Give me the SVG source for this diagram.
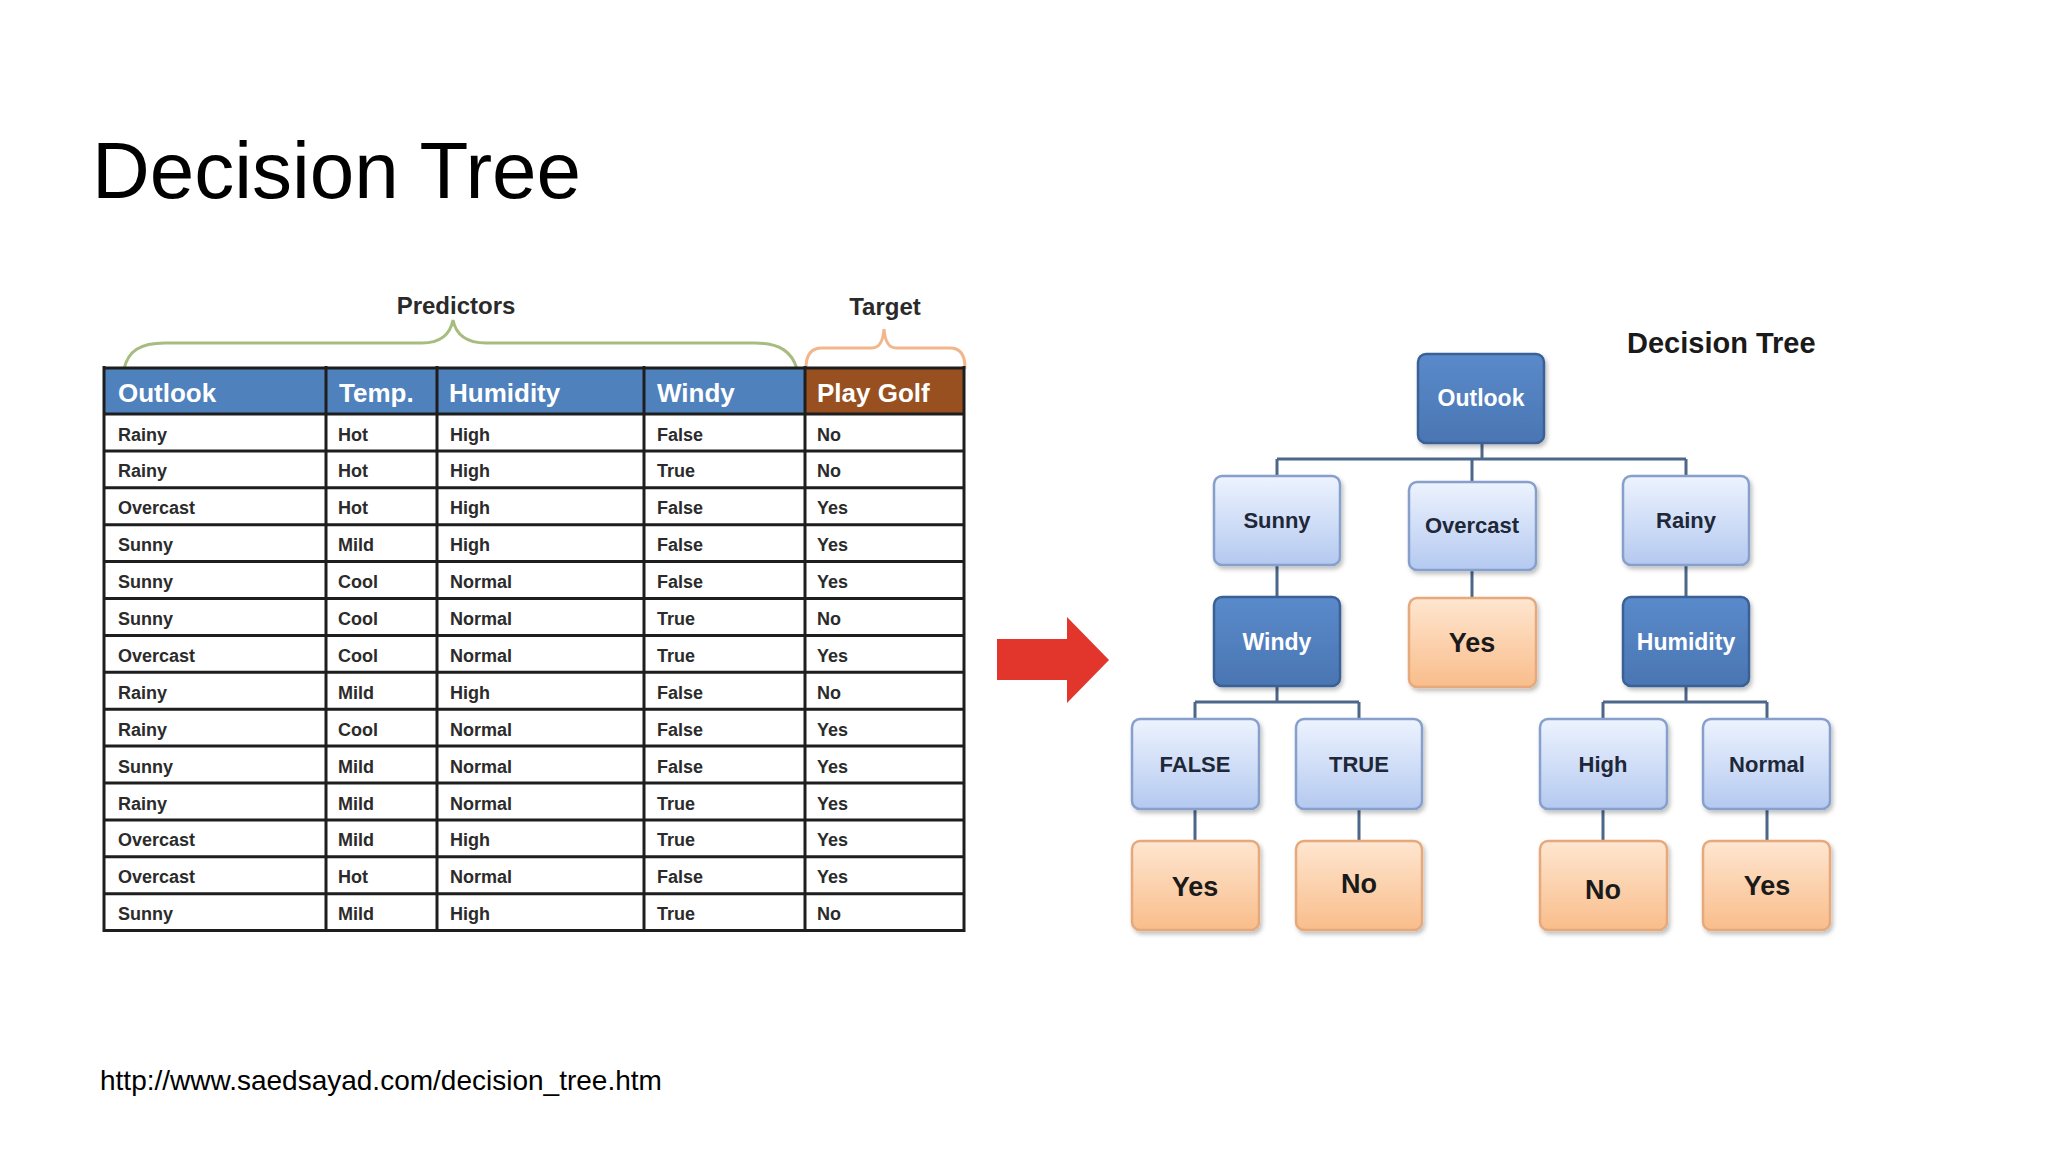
<svg xmlns="http://www.w3.org/2000/svg" width="2048" height="1152" viewBox="0 0 2048 1152">
<defs>
<linearGradient id="gDark" x1="0" y1="0" x2="0" y2="1"><stop offset="0" stop-color="#5a8acb"/><stop offset="1" stop-color="#4a76b2"/></linearGradient>
<linearGradient id="gLight" x1="0" y1="0" x2="0" y2="1"><stop offset="0" stop-color="#edf3fe"/><stop offset="1" stop-color="#b4c9f0"/></linearGradient>
<linearGradient id="gOrange" x1="0" y1="0" x2="0" y2="1"><stop offset="0" stop-color="#fee6d0"/><stop offset="1" stop-color="#f9bd8b"/></linearGradient>
<filter id="sh" x="-10%" y="-10%" width="130%" height="130%"><feDropShadow dx="2" dy="3" stdDeviation="2" flood-color="#000" flood-opacity="0.25"/></filter>
</defs>
<style>
.title{font-family:"Liberation Sans",Arial,sans-serif;font-size:80px;fill:#000}
.url{font-family:"Liberation Sans",Arial,sans-serif;font-size:28px;fill:#000}
.lbl{font-family:"Liberation Sans",Arial,sans-serif;font-weight:bold;font-size:24px;fill:#2a2a2a;text-anchor:middle}
.sub{font-family:"Liberation Sans",Arial,sans-serif;font-weight:bold;font-size:29px;fill:#1a1a1a}
.hd{font-family:"Liberation Sans",Arial,sans-serif;font-weight:bold;font-size:26px;fill:#fff}
.cell{font-family:"Liberation Sans",Arial,sans-serif;font-weight:bold;font-size:18px;fill:#2b2b2b}
.grid{stroke:#1e1e1e;stroke-width:3;fill:none}
.brace{fill:none;stroke-width:3;stroke-linecap:round}
.dark rect{fill:url(#gDark);stroke:#3b6196;stroke-width:2.5;filter:url(#sh)}
.light rect{fill:url(#gLight);stroke:#869fcb;stroke-width:2.5;filter:url(#sh)}
.leaf rect{fill:url(#gOrange);stroke:#e5a97c;stroke-width:2.5;filter:url(#sh)}
.dark text{font-family:"Liberation Sans",Arial,sans-serif;font-weight:bold;font-size:23px;fill:#fff;text-anchor:middle}
.light text{font-family:"Liberation Sans",Arial,sans-serif;font-weight:bold;font-size:22px;fill:#1e2838;text-anchor:middle}
.leaf text{font-family:"Liberation Sans",Arial,sans-serif;font-weight:bold;font-size:27px;fill:#1a1a1a;text-anchor:middle}
.conn{stroke:#4d6789;stroke-width:3;fill:none}
</style>
<rect width="2048" height="1152" fill="#fff"/>
<text class="title" x="92" y="198">Decision Tree</text>

<g id="table">
<text class="lbl" x="456" y="314">Predictors</text>
<text class="lbl" x="885" y="315">Target</text>
<path class="brace" stroke="#a7bd80" d="M124,369 C128,351 140,343 165,343 L422,343 C440,343 450,335 453,320 C456,335 466,343 486,343 L755,343 C780,343 792,352 797,369"/>
<path class="brace" stroke="#f1b68c" d="M806,368 C806,354 812,348 822,348 L872,348 C879,348 883,342 884,329 C885,342 889,348 896,348 L950,348 C960,348 965,354 965,368"/>
<rect x="104" y="368" width="701" height="46" fill="#4f81bd"/>
<rect x="805" y="368" width="159" height="46" fill="#985021"/>
<text class="hd" x="118" y="402">Outlook</text>
<text class="hd" x="339" y="402">Temp.</text>
<text class="hd" x="449" y="402">Humidity</text>
<text class="hd" x="657" y="402">Windy</text>
<text class="hd" x="817" y="402">Play Golf</text>
<path class="grid" d="M104,368H964 M104,414H964 M104,450.9H964 M104,487.8H964 M104,524.7H964 M104,561.6H964 M104,598.5H964 M104,635.4H964 M104,672.3H964 M104,709.2H964 M104,746.1H964 M104,783H964 M104,819.9H964 M104,856.8H964 M104,893.7H964 M104,930.6H964 M104,366V932 M326,366V932 M437,366V932 M644,366V932 M805,366V932 M964,366V932"/>
<g class="cell">
<text x="118" y="440.5">Rainy</text><text x="338" y="440.5">Hot</text><text x="450" y="440.5">High</text><text x="657" y="440.5">False</text><text x="817" y="440.5">No</text>
<text x="118" y="477.4">Rainy</text><text x="338" y="477.4">Hot</text><text x="450" y="477.4">High</text><text x="657" y="477.4">True</text><text x="817" y="477.4">No</text>
<text x="118" y="514.3">Overcast</text><text x="338" y="514.3">Hot</text><text x="450" y="514.3">High</text><text x="657" y="514.3">False</text><text x="817" y="514.3">Yes</text>
<text x="118" y="551.2">Sunny</text><text x="338" y="551.2">Mild</text><text x="450" y="551.2">High</text><text x="657" y="551.2">False</text><text x="817" y="551.2">Yes</text>
<text x="118" y="588.1">Sunny</text><text x="338" y="588.1">Cool</text><text x="450" y="588.1">Normal</text><text x="657" y="588.1">False</text><text x="817" y="588.1">Yes</text>
<text x="118" y="625">Sunny</text><text x="338" y="625">Cool</text><text x="450" y="625">Normal</text><text x="657" y="625">True</text><text x="817" y="625">No</text>
<text x="118" y="661.9">Overcast</text><text x="338" y="661.9">Cool</text><text x="450" y="661.9">Normal</text><text x="657" y="661.9">True</text><text x="817" y="661.9">Yes</text>
<text x="118" y="698.8">Rainy</text><text x="338" y="698.8">Mild</text><text x="450" y="698.8">High</text><text x="657" y="698.8">False</text><text x="817" y="698.8">No</text>
<text x="118" y="735.7">Rainy</text><text x="338" y="735.7">Cool</text><text x="450" y="735.7">Normal</text><text x="657" y="735.7">False</text><text x="817" y="735.7">Yes</text>
<text x="118" y="772.6">Sunny</text><text x="338" y="772.6">Mild</text><text x="450" y="772.6">Normal</text><text x="657" y="772.6">False</text><text x="817" y="772.6">Yes</text>
<text x="118" y="809.5">Rainy</text><text x="338" y="809.5">Mild</text><text x="450" y="809.5">Normal</text><text x="657" y="809.5">True</text><text x="817" y="809.5">Yes</text>
<text x="118" y="846.4">Overcast</text><text x="338" y="846.4">Mild</text><text x="450" y="846.4">High</text><text x="657" y="846.4">True</text><text x="817" y="846.4">Yes</text>
<text x="118" y="883.3">Overcast</text><text x="338" y="883.3">Hot</text><text x="450" y="883.3">Normal</text><text x="657" y="883.3">False</text><text x="817" y="883.3">Yes</text>
<text x="118" y="920.2">Sunny</text><text x="338" y="920.2">Mild</text><text x="450" y="920.2">High</text><text x="657" y="920.2">True</text><text x="817" y="920.2">No</text>
</g>
</g>

<g id="arrow"><polygon points="997,639 1067,639 1067,617 1109,660 1067,703 1067,680 997,680" fill="#e2352c"/></g>

<text class="sub" x="1627" y="353">Decision Tree</text>

<g id="connectors">
<path class="conn" d="M1482,443V459 M1277,459H1686 M1277,459V476 M1472,459V482 M1686,459V476"/>
<path class="conn" d="M1277,565V597 M1472,570V598 M1686,565V597"/>
<path class="conn" d="M1277,686V702 M1195,702H1359 M1195,702V719 M1359,702V719"/>
<path class="conn" d="M1686,686V702 M1603,702H1767 M1603,702V719 M1767,702V719"/>
<path class="conn" d="M1195,809V841 M1359,809V841 M1603,809V841 M1767,809V841"/>
</g>

<g id="n-outlook" class="dark"><rect x="1418" y="354" width="126" height="89" rx="8"/><text x="1481" y="406">Outlook</text></g>
<g id="n-sunny" class="light"><rect x="1214" y="476" width="126" height="89" rx="8"/><text x="1277" y="528">Sunny</text></g>
<g id="n-overcast" class="light"><rect x="1409" y="482" width="127" height="88" rx="8"/><text x="1472" y="533">Overcast</text></g>
<g id="n-rainy" class="light"><rect x="1623" y="476" width="126" height="89" rx="8"/><text x="1686" y="528">Rainy</text></g>
<g id="n-windy" class="dark"><rect x="1214" y="597" width="126" height="89" rx="8"/><text x="1277" y="650">Windy</text></g>
<g id="n-yes1" class="leaf"><rect x="1409" y="598" width="127" height="89" rx="8"/><text x="1472" y="652">Yes</text></g>
<g id="n-humidity" class="dark"><rect x="1623" y="597" width="126" height="89" rx="8"/><text x="1686" y="650">Humidity</text></g>
<g id="n-false" class="light"><rect x="1132" y="719" width="127" height="90" rx="8"/><text x="1195" y="772">FALSE</text></g>
<g id="n-true" class="light"><rect x="1296" y="719" width="126" height="90" rx="8"/><text x="1359" y="772">TRUE</text></g>
<g id="n-high" class="light"><rect x="1540" y="719" width="127" height="90" rx="8"/><text x="1603" y="772">High</text></g>
<g id="n-normal" class="light"><rect x="1703" y="719" width="127" height="90" rx="8"/><text x="1767" y="772">Normal</text></g>
<g id="n-yes2" class="leaf"><rect x="1132" y="841" width="127" height="89" rx="8"/><text x="1195" y="896">Yes</text></g>
<g id="n-no1" class="leaf"><rect x="1296" y="841" width="126" height="89" rx="8"/><text x="1359" y="893">No</text></g>
<g id="n-no2" class="leaf"><rect x="1540" y="841" width="127" height="89" rx="8"/><text x="1603" y="899">No</text></g>
<g id="n-yes3" class="leaf"><rect x="1703" y="841" width="127" height="89" rx="8"/><text x="1767" y="895">Yes</text></g>

<text class="url" x="100" y="1090">http://www.saedsayad.com/decision_tree.htm</text>
</svg>
